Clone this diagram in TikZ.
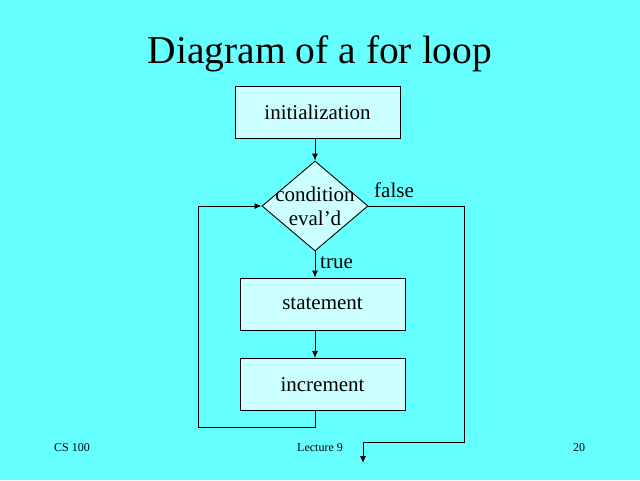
\documentclass[tikz,border=0pt]{standalone}
\usepackage{fontspec}
\setmainfont{Liberation Serif}
\usetikzlibrary{shapes.geometric,arrows.meta}
\definecolor{bgcyan}{HTML}{66FFFF}
\definecolor{boxfill}{HTML}{CCFFFF}
\begin{document}
\begin{tikzpicture}[x=1pt,y=-1pt,
  box/.style={draw=black,fill=boxfill,line width=0.9pt,minimum width=165pt,minimum height=52pt,inner sep=0pt,font=\fontsize{21}{24}\selectfont},
  dec/.style={draw=black,fill=boxfill,line width=0.9pt,shape=diamond,minimum width=106pt,minimum height=90pt,inner sep=0pt},
  conn/.style={line width=0.9pt,-{Latex[length=7pt,width=6pt]}},
  lbl/.style={font=\fontsize{21}{24}\selectfont,inner sep=0pt,anchor=base west},
  foot/.style={font=\fontsize{12}{14}\selectfont,inner sep=0pt}]
\fill[bgcyan] (0,0) rectangle (640,480);
\useasboundingbox (0,0) rectangle (640,480);
\node[font=\fontsize{39.5}{42}\selectfont] (title) at (320,54) {Diagram of a for loop};
\node[box] (init) at (317.5,112.5) {initialization};
\node[dec] (cond) at (315,206) {};
\node[font=\fontsize{21}{24}\selectfont,align=center,inner sep=0pt] (condtext) at (315,206) {condition\\eval'd};
\node[box] (stmt) at (322.5,304) {statement};
\node[box] (incr) at (322.5,384.5) {increment};
\coordinate (loopA) at (315,427);
\coordinate (loopB) at (198,427);
\coordinate (falseA) at (464,206);
\coordinate (falseB) at (464,442);
\coordinate (falseC) at (363,442);
\coordinate (exit) at (363,463);
\draw[conn] (init.south -| cond.north) -- (cond.north);
\draw[conn] (cond.south) -- (cond.south |- stmt.north);
\draw[conn] (stmt.south -| cond.south) -- (cond.south |- incr.north);
\draw[conn] (incr.south -| loopA) -- (loopA) -- (loopB) |- (cond.west);
\draw[conn] (cond.east) -- (falseA) -- (falseB) -- (falseC) -- (exit);
\node[lbl] (truelbl) at (320,268) {true};
\node[lbl] (falselbl) at (374,197) {false};
\node[foot] (cs) at (72,448) {CS 100};
\node[foot] (lect) at (320,448) {Lecture 9};
\node[foot] (page) at (579,448) {20};
\end{tikzpicture}
\end{document}
